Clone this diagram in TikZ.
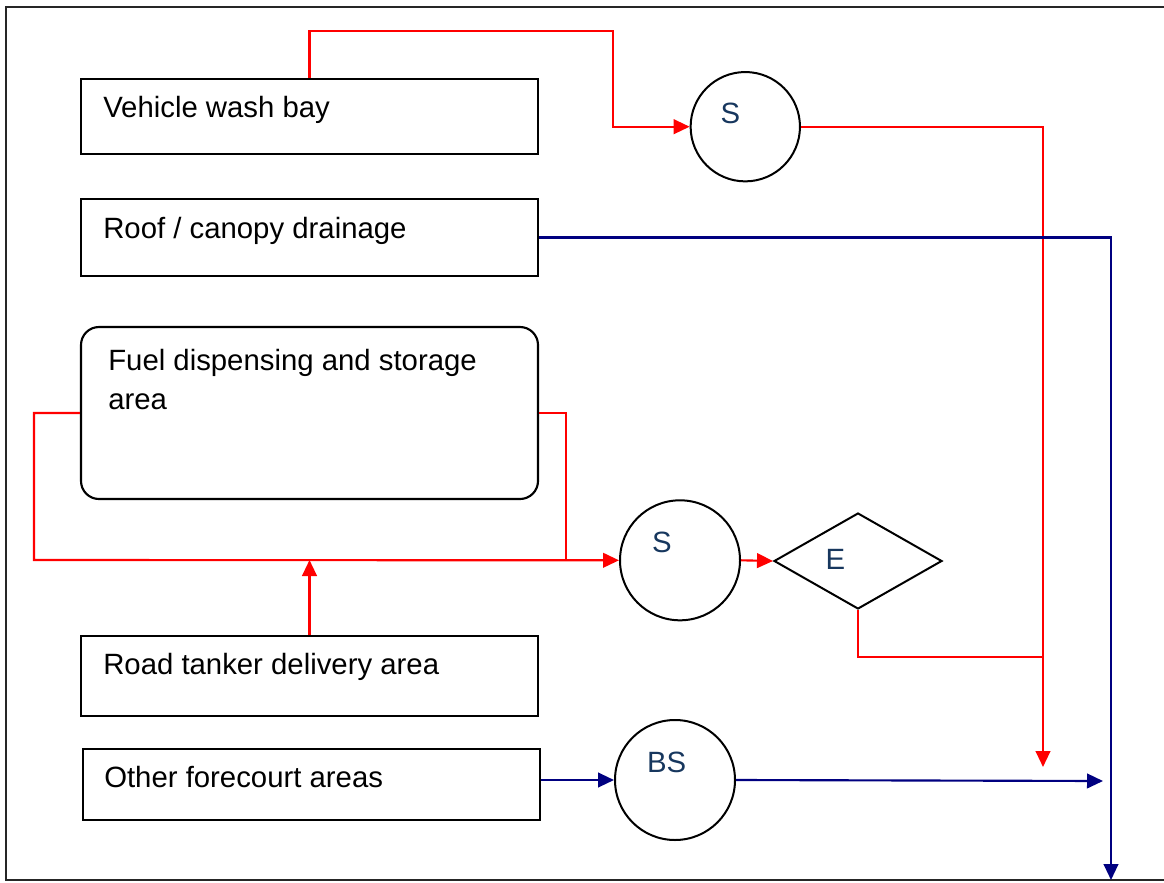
\documentclass[tikz,border=0pt]{standalone}
\usepackage{fontspec}
\setmainfont{Liberation Sans}
\usetikzlibrary{shapes.geometric,arrows.meta}
\definecolor{redline}{RGB}{255,0,0}
\definecolor{blueline}{RGB}{0,0,128}
\definecolor{lbl}{RGB}{23,55,94}
\begin{document}
\begin{tikzpicture}[x=0.75pt,y=-0.75pt,
  box/.style={draw=black, line width=1.6pt, rectangle, inner sep=0pt, minimum width=342.75pt},
  txt/.style={anchor=base west, inner sep=0pt, font=\fontsize{22}{26}\selectfont},
  circ/.style={draw=black, line width=1.5pt, circle, inner sep=0pt},
  lab/.style={inner sep=0pt, text=lbl, font=\fontsize{22}{26}\selectfont},
  rl/.style={draw=redline, line width=1.6pt},
  bl/.style={draw=blueline, line width=1.6pt},
  tip/.style={-{Triangle[length=12pt,width=11pt]}}
]
\useasboundingbox (0,0) rectangle (1164,882);
\draw[black!85, line width=1.5pt] (6,7) rectangle (1180,880);

% boxes
\node[box, minimum height=56.25pt] (wash) at (309.5,116.5) {};
\node[box, minimum height=57.75pt] (roof) at (309.5,237.5) {};
\node[box, minimum height=129pt, rounded corners=13.5pt] (fuel) at (309.5,413) {};
\node[box, minimum height=60pt] (tanker) at (309.5,676) {};
\node[box, minimum height=53.25pt] (other) at (311.5,784.5) {};

\node[txt] (washT) at (103,117) {Vehicle wash bay};
\node[txt] (roofT) at (103,238) {Roof / canopy drainage};
\node[txt] (fuelT1) at (108,370) {Fuel dispensing and storage};
\node[txt] (fuelT2) at (108,409) {area};
\node[txt] (tankerT) at (103,674) {Road tanker delivery area};
\node[txt] (otherT) at (104,787) {Other forecourt areas};

% separators
\node[circ, minimum size=82pt] (s1) at (745.3,126.7) {};
\node[circ, minimum size=90pt] (s2) at (680,560.3) {};
\node[circ, minimum size=90pt] (bs) at (675,780) {};
\node[draw=black, line width=1.5pt, diamond, inner sep=0pt,
      minimum width=126pt, minimum height=72pt] (E) at (858,561) {};

\node[lab] (s1T) at (730.5,113) {S};
\node[lab] (s2T) at (662,542.5) {S};
\node[lab] (ET) at (835.5,559.7) {E};
\node[lab] (bsT) at (666.7,762.5) {BS};

% junction coordinates
\coordinate (r1b) at (613,31);
\coordinate (r2) at (1043,767);
\coordinate (fl) at (34,560);
\coordinate (fr) at (566,560);
\coordinate (ej) at (1043,657);
\coordinate (b1) at (1111,880);
\coordinate (b2) at (1103,781);

% red connectors
\draw[rl, tip] (wash.north) |- (r1b) |- (s1.west);
\draw[rl, tip] (s1.east) -| (r2);
\draw[rl, tip] (fuel.west) -| (fl) -- (s2.west);
\draw[rl] (fuel.east) -| (fr);
\draw[rl, tip] (tanker.north) -- (tanker.north |- fl);
\draw[rl, tip] (s2.east) -- (E.west);
\draw[rl] (E.south) |- (ej);

% blue connectors
\draw[bl, tip] (roof.east) -| (b1);
\draw[bl, tip] (bs.west -| other.east) -- (bs.west);
\draw[bl, tip] (bs.east) -- (b2);
\end{tikzpicture}
\end{document}
